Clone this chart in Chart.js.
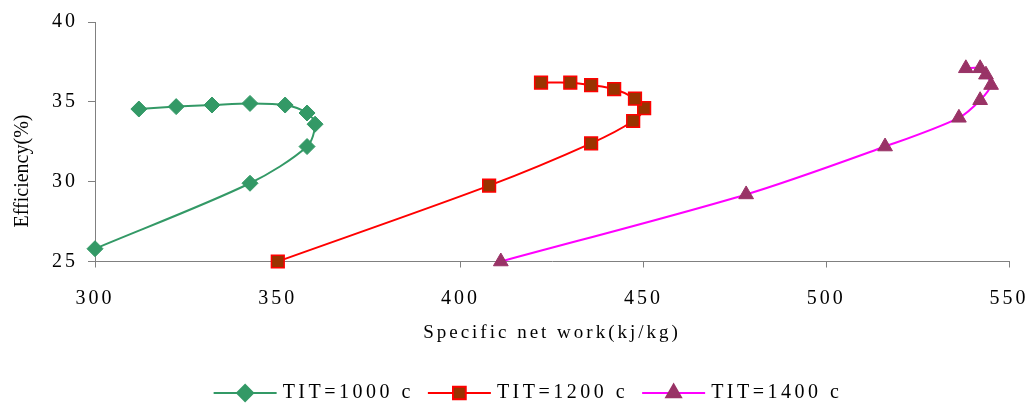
<!DOCTYPE html>
<html>
<head>
<meta charset="utf-8">
<script src="https://cdn.jsdelivr.net/npm/chart.js@4"></script>
<style>
  html, body { margin: 0; padding: 0; background: #fff; }
  #wrap { width: 1034px; height: 409px; }
</style>
</head>
<body>
<div id="wrap"><canvas id="effChart"></canvas></div>
<script>
// values, in the order each curve is traced
const work1000 = [300, 342.4, 358, 360.2, 358, 352, 342.4, 332, 322.2, 312];
const eff1000  = [25.8, 29.9, 32.2, 33.6, 34.3, 34.8, 34.9, 34.8, 34.7, 34.55];

const work1200 = [350, 407.8, 435.7, 447.2, 450.2, 447.7, 442, 435.7, 430, 422];
const eff1200  = [25.0, 29.75, 32.4, 33.8, 34.6, 35.2, 35.8, 36.05, 36.2, 36.2];

const work1400 = [411, 478.1, 516.1, 536.3, 542.1, 545.1, 543.7, 542.1, 538.2];
const eff1400  = [25.0, 29.2, 32.2, 34.0, 35.1, 36.05, 36.7, 37.1, 37.1];

const seriesNames = ['TIT=1000 c', 'TIT=1200 c', 'TIT=1400 c'];
const xTicks = [300, 350, 400, 450, 500, 550];
const yTicks = [25, 30, 35, 40];

const serif = '"Liberation Serif", "Times New Roman", serif';

function pairs(xs, ys) {
    return xs.map((x, i) => ({ x: x, y: ys[i] }));
}

// spaced-out lettering like the original export
const spacingPlugin = {
    id: 'spacing',
    beforeLayout(chart) { chart.ctx.letterSpacing = '3px'; },
    beforeDraw(chart) { chart.ctx.letterSpacing = '3px'; }
};

// y title and a legend with the line running through the marker
const extrasPlugin = {
    id: 'extras',
    afterDraw(chart) {
        const ctx = chart.ctx;
        ctx.save();
        ctx.letterSpacing = '0px';
        ctx.font = '20px ' + serif;
        ctx.fillStyle = '#000';
        ctx.textAlign = 'center';
        ctx.textBaseline = 'middle';
        ctx.translate(23, 171);
        ctx.rotate(-Math.PI / 2);
        ctx.fillText('Efficiency(%)', 0, 0);
        ctx.restore();

        ctx.save();
        ctx.font = '20px ' + serif;
        ctx.letterSpacing = '3.5px';
        ctx.textBaseline = 'middle';
        ctx.textAlign = 'left';
        const y = 393, lineLen = 63, textGap = 6, itemGap = 14;
        const sets = chart.data.datasets;
        const widths = sets.map(d => ctx.measureText(d.label).width);
        const total = sets.length * (lineLen + textGap) + widths.reduce((a, b) => a + b, 0) + itemGap * (sets.length - 1);
        let x = 528 - total / 2;
        sets.forEach((d, i) => {
            ctx.strokeStyle = d.borderColor;
            ctx.lineWidth = d.borderWidth;
            ctx.beginPath();
            ctx.moveTo(x, y);
            ctx.lineTo(x + lineLen, y);
            ctx.stroke();
            ctx.fillStyle = d.pointBackgroundColor;
            ctx.strokeStyle = d.pointBorderColor;
            Chart.helpers.drawPoint(ctx, {
                pointStyle: d.pointStyle,
                radius: d.pointRadius,
                rotation: 0,
                borderWidth: d.pointBorderWidth
            }, x + lineLen / 2, y);
            ctx.fillStyle = '#000';
            ctx.fillText(d.label, x + lineLen + textGap, y);
            x += lineLen + textGap + widths[i] + itemGap;
        });
        ctx.restore();
    }
};

const ctx = document.getElementById('effChart').getContext('2d');
new Chart(ctx, {
    type: 'scatter',
    data: {
        datasets: [{
            label: seriesNames[0],
            data: pairs(work1000, eff1000),
            showLine: true,
            borderColor: '#339966',
            borderWidth: 2,
            pointStyle: 'rectRot',
            pointRadius: 8,
            pointBackgroundColor: '#339966',
            pointBorderColor: '#339966',
            pointBorderWidth: 1,
            tension: 0.3,
            clip: false
        },
        {
            label: seriesNames[1],
            data: pairs(work1200, eff1200),
            showLine: true,
            borderColor: '#ff0000',
            borderWidth: 2,
            pointStyle: 'rect',
            pointRadius: 9,
            pointBackgroundColor: '#993300',
            pointBorderColor: '#ff0000',
            pointBorderWidth: 1.5,
            tension: 0.3,
            clip: false
        },
        {
            label: seriesNames[2],
            data: pairs(work1400, eff1400),
            showLine: true,
            borderColor: '#ff00ff',
            borderWidth: 2,
            pointStyle: 'triangle',
            pointRadius: 8.5,
            pointBackgroundColor: '#993366',
            pointBorderColor: '#993366',
            pointBorderWidth: 1,
            tension: 0.3,
            clip: false
        }]
    },
    options: {
        responsive: true,
        maintainAspectRatio: false,
        animation: false,
        events: [],
        layout: {
            padding: { top: 18, right: 25, bottom: 64.6, left: 0 }
        },
        plugins: {
            legend: { display: false },
            tooltip: { enabled: false }
        },
        scales: {
            x: {
                type: 'linear',
                min: 300,
                max: 550,
                afterBuildTicks: s => { s.ticks = xTicks.map(v => ({ value: v })); },
                afterFit: s => { s.height = 82.9; s.paddingRight = 0; s.paddingLeft = 0; },
                grid: { drawOnChartArea: false, drawTicks: true, tickLength: 6, color: '#808080' },
                border: { color: '#808080', width: 1 },
                ticks: { color: '#000', padding: 19, maxRotation: 0, font: { family: serif, size: 20 } },
                title: {
                    display: true,
                    text: 'Specific net work(kj/kg)',
                    color: '#000',
                    padding: 0,
                    font: { family: serif, size: 19 }
                }
            },
            y: {
                min: 25,
                max: 40,
                afterBuildTicks: s => { s.ticks = yTicks.map(v => ({ value: v })); },
                afterFit: s => { s.width = 95; },
                grid: { drawOnChartArea: false, drawTicks: true, tickLength: 7, color: '#808080' },
                border: { color: '#808080', width: 1 },
                ticks: { color: '#000', padding: 10, font: { family: serif, size: 20 } }
            }
        }
    },
    plugins: [spacingPlugin, extrasPlugin]
});
</script>
</body>
</html>
